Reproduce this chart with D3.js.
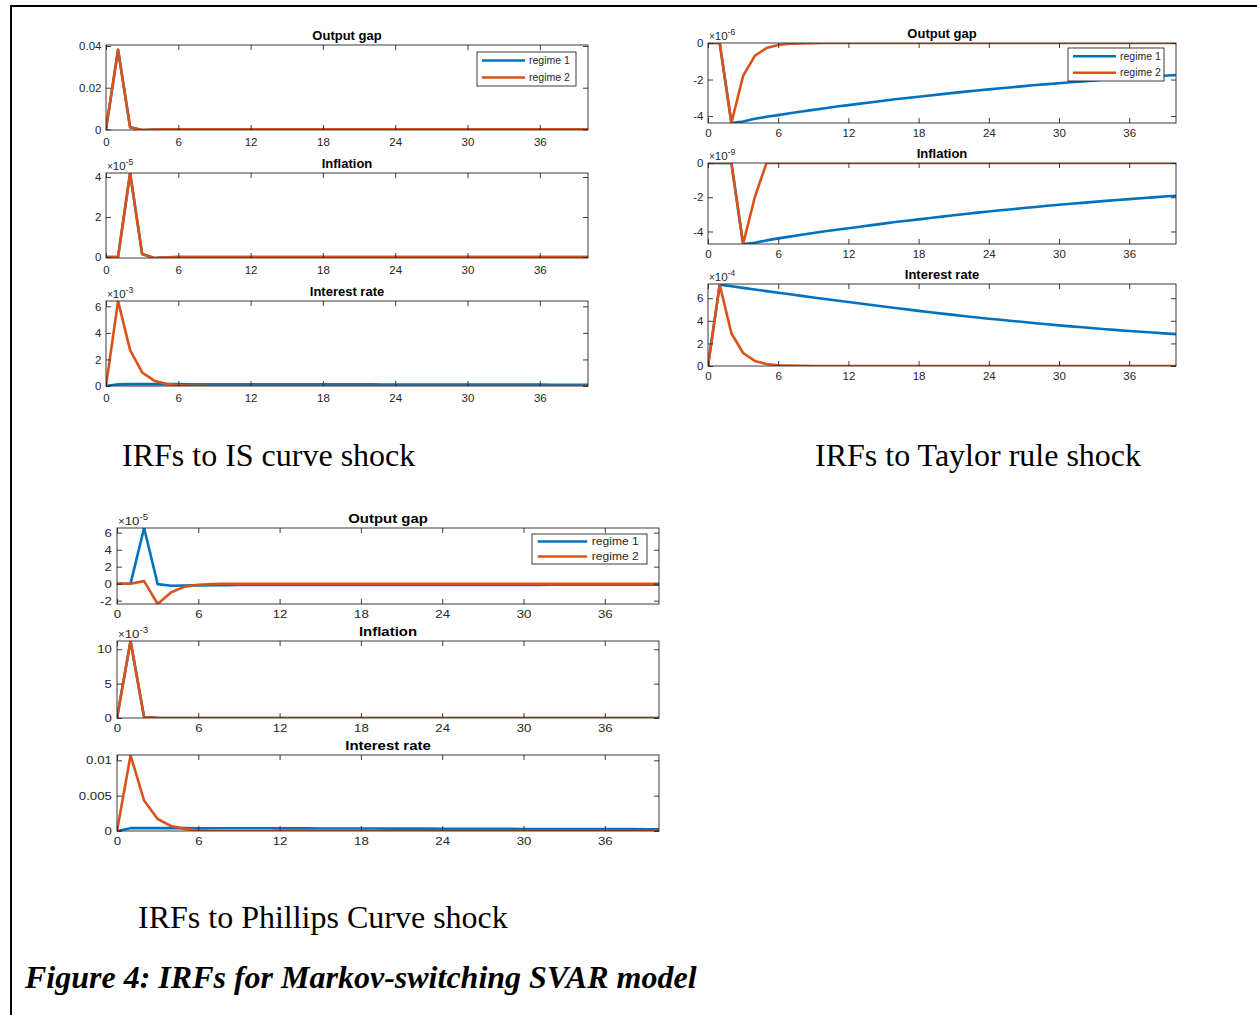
<!DOCTYPE html>
<html>
<head>
<meta charset="utf-8">
<script src="https://cdn.jsdelivr.net/npm/d3@7"></script>
<style>
  body { margin: 0; background: #fff; }
  svg { display: block; }
</style>
</head>
<body>
<svg id="fig" width="1257" height="1015"></svg>
<script>
// horizon (quarters) shared by every panel
const horizon = [0, 1, 2, 3, 4, 5, 6, 7, 8, 9, 10, 11, 12, 13, 14, 15, 16, 17, 18, 19, 20,
  21, 22, 23, 24, 25, 26, 27, 28, 29, 30, 31, 32, 33, 34, 35, 36, 37, 38, 39, 40];
const xDomain = [0, 40];
const xTicks = [0, 6, 12, 18, 24, 30, 36];

// ---- IS curve shock ----
const isGap1 = [0, 0.0382, 0.0010, -0.0003, -0.0001, 0, 0, 0, 0, 0,
  0, 0, 0, 0, 0, 0, 0, 0, 0, 0, 0, 0, 0, 0, 0, 0, 0, 0, 0, 0,
  0, 0, 0, 0, 0, 0, 0, 0, 0, 0, 0];
const isGap2 = [0, 0.0382, 0.0010, -0.0003, -0.0001, 0, 0, 0, 0, 0,
  0, 0, 0, 0, 0, 0, 0, 0, 0, 0, 0, 0, 0, 0, 0, 0, 0, 0, 0, 0,
  0, 0, 0, 0, 0, 0, 0, 0, 0, 0, 0];
const isInf1 = [0, 0, 4.20, 0.15, -0.05, -0.02, 0, 0, 0, 0,
  0, 0, 0, 0, 0, 0, 0, 0, 0, 0, 0, 0, 0, 0, 0, 0, 0, 0, 0, 0,
  0, 0, 0, 0, 0, 0, 0, 0, 0, 0, 0];
const isInf2 = [0, 0, 4.20, 0.15, -0.05, -0.02, 0, 0, 0, 0,
  0, 0, 0, 0, 0, 0, 0, 0, 0, 0, 0, 0, 0, 0, 0, 0, 0, 0, 0, 0,
  0, 0, 0, 0, 0, 0, 0, 0, 0, 0, 0];
const isRate1 = [0, 0.12, 0.14, 0.14, 0.14, 0.14, 0.14, 0.13, 0.13, 0.13,
  0.13, 0.13, 0.13, 0.13, 0.13, 0.12, 0.12, 0.12, 0.12, 0.12,
  0.12, 0.12, 0.12, 0.11, 0.11, 0.11, 0.11, 0.11, 0.11, 0.11,
  0.10, 0.10, 0.10, 0.10, 0.10, 0.10, 0.10, 0.09, 0.09, 0.09, 0.09];
const isRate2 = [0, 6.40, 2.70, 1.02, 0.40, 0.16, 0.06, 0.02, 0.01, 0,
  0, 0, 0, 0, 0, 0, 0, 0, 0, 0, 0, 0, 0, 0, 0, 0, 0, 0, 0, 0,
  0, 0, 0, 0, 0, 0, 0, 0, 0, 0, 0];

// ---- Taylor rule shock ----
const trGap1 = [0, 0, -4.38, -4.30, -4.15, -4.04, -3.95, -3.85, -3.75, -3.66,
  -3.57, -3.48, -3.40, -3.32, -3.24, -3.16, -3.08, -3.01, -2.94, -2.87,
  -2.80, -2.73, -2.66, -2.60, -2.54, -2.48, -2.42, -2.36, -2.30, -2.25,
  -2.20, -2.15, -2.10, -2.05, -2.00, -1.96, -1.92, -1.87, -1.83, -1.79, -1.75];
const trGap2 = [0, 0, -4.38, -1.80, -0.70, -0.28, -0.11, -0.04, -0.02, -0.01,
  0, 0, 0, 0, 0, 0, 0, 0, 0, 0, 0, 0, 0, 0, 0, 0, 0, 0, 0, 0,
  0, 0, 0, 0, 0, 0, 0, 0, 0, 0, 0];
const trInf1 = [0, 0, 0, -4.73, -4.66, -4.52, -4.40, -4.30, -4.19, -4.09,
  -3.99, -3.90, -3.81, -3.72, -3.63, -3.54, -3.45, -3.37, -3.29, -3.21,
  -3.13, -3.05, -2.98, -2.90, -2.83, -2.76, -2.70, -2.63, -2.57, -2.50,
  -2.44, -2.38, -2.33, -2.27, -2.21, -2.16, -2.11, -2.06, -2.01, -1.96, -1.91];
const trInf2 = [0, 0, 0, -4.73, -2.00, 0, 0, 0, 0, 0,
  0, 0, 0, 0, 0, 0, 0, 0, 0, 0, 0, 0, 0, 0, 0, 0, 0, 0, 0, 0,
  0, 0, 0, 0, 0, 0, 0, 0, 0, 0, 0];
const trRate1 = [0, 7.20, 7.06, 6.92, 6.78, 6.63, 6.49, 6.35, 6.21, 6.07,
  5.93, 5.80, 5.66, 5.53, 5.40, 5.27, 5.14, 5.01, 4.88, 4.76,
  4.64, 4.53, 4.41, 4.30, 4.19, 4.09, 3.99, 3.89, 3.79, 3.69,
  3.60, 3.51, 3.43, 3.34, 3.26, 3.18, 3.10, 3.03, 2.96, 2.89, 2.82];
const trRate2 = [0, 7.20, 2.90, 1.15, 0.45, 0.18, 0.07, 0.03, 0.01, 0,
  0, 0, 0, 0, 0, 0, 0, 0, 0, 0, 0, 0, 0, 0, 0, 0, 0, 0, 0, 0,
  0, 0, 0, 0, 0, 0, 0, 0, 0, 0, 0];

// ---- Phillips curve shock ----
const pcGap1 = [0, 0, 6.55, -0.05, -0.25, -0.22, -0.20, -0.18, -0.17, -0.16,
  -0.15, -0.15, -0.15, -0.15, -0.15, -0.15, -0.15, -0.15, -0.15, -0.15,
  -0.15, -0.15, -0.15, -0.15, -0.15, -0.14, -0.14, -0.14, -0.14, -0.14,
  -0.14, -0.14, -0.13, -0.13, -0.13, -0.13, -0.13, -0.12, -0.12, -0.12, -0.12];
const pcGap2 = [0, 0, 0.30, -2.39, -1.00, -0.35, -0.12, -0.04, -0.01, 0,
  0, 0, 0, 0, 0, 0, 0, 0, 0, 0, 0, 0, 0, 0, 0, 0, 0, 0, 0, 0,
  0, 0, 0, 0, 0, 0, 0, 0, 0, 0, 0];
const pcInf1 = [0, 11.20, 0.10, 0.03, 0.01, 0, 0, 0, 0, 0,
  0, 0, 0, 0, 0, 0, 0, 0, 0, 0, 0, 0, 0, 0, 0, 0, 0, 0, 0, 0,
  0, 0, 0, 0, 0, 0, 0, 0, 0, 0, 0];
const pcInf2 = [0, 11.20, 0.10, 0.03, 0.01, 0, 0, 0, 0, 0,
  0, 0, 0, 0, 0, 0, 0, 0, 0, 0, 0, 0, 0, 0, 0, 0, 0, 0, 0, 0,
  0, 0, 0, 0, 0, 0, 0, 0, 0, 0, 0];
const pcRate1 = [0, 0.00040, 0.00040, 0.00040, 0.00040, 0.00040, 0.00039, 0.00039, 0.00039, 0.00038,
  0.00038, 0.00038, 0.00037, 0.00037, 0.00037, 0.00036, 0.00036, 0.00035, 0.00035, 0.00035,
  0.00034, 0.00034, 0.00033, 0.00033, 0.00032, 0.00032, 0.00031, 0.00031, 0.00030, 0.00030,
  0.00029, 0.00029, 0.00028, 0.00028, 0.00027, 0.00027, 0.00026, 0.00026, 0.00026, 0.00025, 0.00025];
const pcRate2 = [0, 0.0107, 0.0043, 0.0017, 0.0007, 0.0003, 0.0001, 0.00004, 0.00001, 0,
  0, 0, 0, 0, 0, 0, 0, 0, 0, 0, 0, 0, 0, 0, 0, 0, 0, 0, 0, 0,
  0, 0, 0, 0, 0, 0, 0, 0, 0, 0, 0];

// y limits and tick labels per panel
const isGapY = [-0.0003, 0.0405], isGapTicks = [0, 0.02, 0.04], isGapLabels = ["0", "0.02", "0.04"];
const isInfY = [-0.05, 4.2], isInfTicks = [0, 2, 4], isInfLabels = ["0", "2", "4"];
const isRateY = [0, 6.4], isRateTicks = [0, 2, 4, 6], isRateLabels = ["0", "2", "4", "6"];
const trGapY = [-4.38, 0], trGapTicks = [-4, -2, 0], trGapLabels = ["-4", "-2", "0"];
const trInfY = [-4.73, 0], trInfTicks = [-4, -2, 0], trInfLabels = ["-4", "-2", "0"];
const trRateY = [0, 7.26], trRateTicks = [0, 2, 4, 6], trRateLabels = ["0", "2", "4", "6"];
const pcGapY = [-2.39, 6.55], pcGapTicks = [-2, 0, 2, 4, 6], pcGapLabels = ["-2", "0", "2", "4", "6"];
const pcInfY = [0, 11.2], pcInfTicks = [0, 5, 10], pcInfLabels = ["0", "5", "10"];
const pcRateY = [0, 0.01075], pcRateTicks = [0, 0.005, 0.01], pcRateLabels = ["0", "0.005", "0.01"];

const seriesNames = ["regime 1", "regime 2"];
const colors = ["#0072BD", "#D95319"];

// layout
const panels = [
  {box: [106, 45, 588, 130], title: "Output gap", r1: isGap1, r2: isGap2, dom: isGapY, ticks: isGapTicks, labels: isGapLabels, exp: null, legend: [477, 52, 576, 86], sx: 1, pad: 8},
  {box: [106, 173, 588, 258], title: "Inflation", r1: isInf1, r2: isInf2, dom: isInfY, ticks: isInfTicks, labels: isInfLabels, exp: "-5", sx: 1, pad: 8},
  {box: [106, 301, 588, 386], title: "Interest rate", r1: isRate1, r2: isRate2, dom: isRateY, ticks: isRateTicks, labels: isRateLabels, exp: "-3", sx: 1, pad: 8},
  {box: [708, 43, 1176, 123], title: "Output gap", r1: trGap1, r2: trGap2, dom: trGapY, ticks: trGapTicks, labels: trGapLabels, exp: "-6", legend: [1068, 48, 1164, 81], sx: 1, pad: 6},
  {box: [708, 163, 1176, 244], title: "Inflation", r1: trInf1, r2: trInf2, dom: trInfY, ticks: trInfTicks, labels: trInfLabels, exp: "-9", sx: 1, pad: 6},
  {box: [708, 284, 1176, 366], title: "Interest rate", r1: trRate1, r2: trRate2, dom: trRateY, ticks: trRateTicks, labels: trRateLabels, exp: "-4", sx: 1, pad: 6},
  {box: [117, 528, 659, 604], title: "Output gap", r1: pcGap1, r2: pcGap2, dom: pcGapY, ticks: pcGapTicks, labels: pcGapLabels, exp: "-5", legend: [532, 534, 647, 564], sx: 1.15, pad: 5.5},
  {box: [117, 641, 659, 718], title: "Inflation", r1: pcInf1, r2: pcInf2, dom: pcInfY, ticks: pcInfTicks, labels: pcInfLabels, exp: "-3", sx: 1.15, pad: 5.5},
  {box: [117, 755, 659, 831], title: "Interest rate", r1: pcRate1, r2: pcRate2, dom: pcRateY, ticks: pcRateTicks, labels: pcRateLabels, exp: null, sx: 1.15, pad: 5.5}
];

const captions = [
  {text: "IRFs to IS curve shock", x: 122, y: 466},
  {text: "IRFs to Taylor rule shock", x: 815, y: 466},
  {text: "IRFs to Phillips Curve shock", x: 138, y: 928}
];

const svg = d3.select("#fig");
const ink = "#262626";
const tickLen = 5;

// page frame (top and left rule)
svg.append("line").attr("x1", 10).attr("x2", 1257).attr("y1", 6).attr("y2", 6)
  .attr("stroke", "#000").attr("stroke-width", 2);
svg.append("line").attr("x1", 11).attr("x2", 11).attr("y1", 5).attr("y2", 1015)
  .attr("stroke", "#000").attr("stroke-width", 2);

function drawPanel(p, idx) {
  var [x0, y0, x1, y1] = p.box;
  var x = d3.scaleLinear().domain(xDomain).range([x0, x1]);
  var y = d3.scaleLinear().domain(p.dom).range([y1, y0]);
  var g = svg.append("g")
    .style("font-family", "'Liberation Sans', Arial, Helvetica, sans-serif")
    .style("font-size", "11.5px")
    .attr("fill", ink);

  g.append("clipPath").attr("id", "clip" + idx)
    .append("rect").attr("x", x0).attr("y", y0).attr("width", x1 - x0).attr("height", y1 - y0);

  var line = d3.line().x((d, i) => x(horizon[i])).y(d => y(d));
  g.append("g").attr("clip-path", "url(#clip" + idx + ")")
    .selectAll("path")
    .data([p.r1, p.r2])
    .enter().append("path")
      .attr("d", line)
      .attr("fill", "none")
      .attr("stroke", (d, i) => colors[i])
      .attr("stroke-width", 2.6)
      .attr("stroke-linejoin", "round");

  g.append("rect")
    .attr("x", x0).attr("y", y0).attr("width", x1 - x0).attr("height", y1 - y0)
    .attr("fill", "none").attr("stroke", ink).attr("stroke-width", 0.9);

  var fix = a => {
    a.attr("font-size", null).attr("font-family", null);
    a.select(".domain").remove();
    a.selectAll(".tick line").attr("stroke", ink).attr("stroke-width", 0.9);
    a.selectAll(".tick text").attr("fill", ink);
  };

  var bottom = g.append("g").attr("transform", "translate(0," + y1 + ")")
    .call(d3.axisBottom(x).tickValues(xTicks).tickSize(-tickLen).tickSizeOuter(0).tickPadding(p.pad))
    .call(fix);
  bottom.selectAll(".tick text").attr("transform", "scale(" + p.sx + ",1)");
  g.append("g").attr("transform", "translate(0," + y0 + ")")
    .call(d3.axisTop(x).tickValues(xTicks).tickSize(-tickLen).tickSizeOuter(0).tickFormat(""))
    .call(fix);

  var left = g.append("g").attr("transform", "translate(" + x0 + ",0)")
    .call(d3.axisLeft(y).tickValues(p.ticks).tickFormat((d, i) => p.labels[i])
      .tickSize(-tickLen).tickSizeOuter(0).tickPadding(4.5))
    .call(fix);
  left.selectAll(".tick text").attr("transform", "scale(" + p.sx + ",1)");
  g.append("g").attr("transform", "translate(" + x1 + ",0)")
    .call(d3.axisRight(y).tickValues(p.ticks).tickSize(-tickLen).tickSizeOuter(0).tickFormat(""))
    .call(fix);

  // title
  g.append("text")
    .attr("transform", "translate(" + (x0 + x1) / 2 + "," + (y0 - 5) + ") scale(" + p.sx + ",1)")
    .attr("text-anchor", "middle")
    .style("font-weight", "bold")
    .style("font-size", "13px")
    .attr("fill", "#000")
    .text(p.title);

  // exponent multiplier
  if (p.exp) {
    var t = g.append("text")
      .attr("transform", "translate(" + (x0 + 1) + "," + (y0 - 3.5) + ") scale(" + p.sx + ",1)")
      .attr("fill", ink);
    t.append("tspan").style("font-size", "10px").text("\u00d7");
    t.append("tspan").text("10");
    t.append("tspan").attr("dy", -5).style("font-size", "8.5px").text(p.exp);
  }

  // legend
  if (p.legend) {
    var [lx0, ly0, lx1, ly1] = p.legend;
    var lg = g.append("g");
    lg.append("rect")
      .attr("x", lx0).attr("y", ly0).attr("width", lx1 - lx0).attr("height", ly1 - ly0)
      .attr("fill", "#fff").attr("stroke", ink).attr("stroke-width", 0.9);
    var rowH = (ly1 - ly0) / 2;
    var item = lg.selectAll(".item")
      .data(seriesNames)
      .enter().append("g")
      .attr("class", "item")
      .attr("transform", (d, i) => "translate(" + lx0 + "," + (ly0 + rowH * (i + 0.5)) + ")");
    item.append("line")
      .attr("x1", 5 * p.sx).attr("x2", 48 * p.sx)
      .attr("stroke", (d, i) => colors[i]).attr("stroke-width", 2.6);
    item.append("text")
      .attr("transform", "translate(" + 52 * p.sx + ",0) scale(" + p.sx + ",1)")
      .attr("dy", "0.35em")
      .style("font-size", "10.5px")
      .attr("fill", ink)
      .text(d => d);
  }
}

panels.forEach(drawPanel);

// captions
svg.selectAll(".caption")
  .data(captions)
  .enter().append("text")
    .attr("class", "caption")
    .attr("x", d => d.x).attr("y", d => d.y)
    .style("font-family", "'Liberation Serif', 'Times New Roman', serif")
    .style("font-size", "32px")
    .attr("fill", "#000")
    .text(d => d.text);

svg.append("text")
  .attr("x", 25).attr("y", 988)
  .style("font-family", "'Liberation Serif', 'Times New Roman', serif")
  .style("font-size", "32px")
  .style("font-weight", "bold")
  .style("font-style", "italic")
  .attr("fill", "#000")
  .text("Figure 4: IRFs for Markov-switching SVAR model");
</script>
</body>
</html>
